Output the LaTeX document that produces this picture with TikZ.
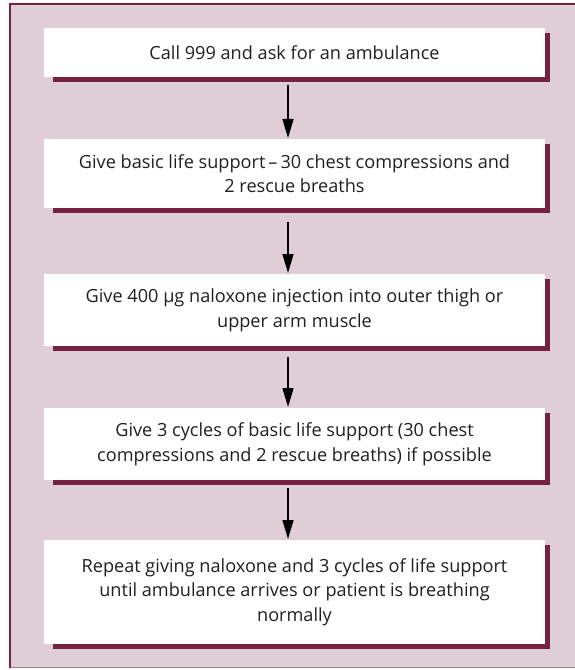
\documentclass[tikz,border=0pt]{standalone}
\usepackage{fontspec}
\setmainfont{Open Sans}
\usetikzlibrary{calc,arrows.meta}
\definecolor{panelbg}{HTML}{DFCED5}
\definecolor{maroon}{HTML}{74223F}
\definecolor{lowline}{HTML}{9C7F8B}
\definecolor{inktext}{HTML}{231F20}
\pgfdeclarelayer{panel}
\pgfdeclarelayer{shadow}
\pgfsetlayers{panel,shadow,main}
\tikzset{
  stepbox/.style={draw=none, fill=white, minimum width=501bp, inner sep=0pt,
    align=center, text=inktext, anchor=north,
    font=\fontsize{18.2}{24.5}\selectfont},
  flowarrow/.style={line width=1.5bp, -{Triangle[length=19bp,width=11bp]}},
}
\newcommand{\boxshadow}[1]{%
  \begin{pgfonlayer}{shadow}
    \fill[maroon] ($(#1.north west)+(9,5)$) rectangle ($(#1.south east)+(5,5)$);
  \end{pgfonlayer}}
\begin{document}
\begin{tikzpicture}[x=1bp,y=-1bp]
\useasboundingbox (0,0) rectangle (575,670);
% panel with its borders
\begin{pgfonlayer}{panel}
  \fill[panelbg] (10,4) rectangle (575,667);
  \draw[lowline, line width=1.2bp] (10,667.5) -- (575,667.5);
  \draw[maroon, line width=2.4bp] (8.8,4) -- (575,4);
  \draw[maroon, line width=2.3bp] (10,2.8) -- (10,668);
\end{pgfonlayer}
% steps
\node[stepbox, minimum height=49bp] (b1) at (294.5,28) {Call 999 and ask for an ambulance};
\node[stepbox, minimum height=69bp] (b2) at (294.5,139) {Give basic life support\,–\,30 chest compressions and\\2 rescue breaths};
\node[stepbox, minimum height=72bp] (b3) at (294.5,274) {Give 400 μg naloxone injection into outer thigh or\\upper arm muscle};
\node[stepbox, minimum height=72bp] (b4) at (294.5,408) {Give 3 cycles of basic life support (30 chest\\compressions and 2 rescue breaths) if possible};
\node[stepbox, minimum height=104bp] (b5) at (294.5,540) {Repeat giving naloxone and 3 cycles of life support\\until ambulance arrives or patient is breathing\\normally};
\boxshadow{b1}\boxshadow{b2}\boxshadow{b3}\boxshadow{b4}\boxshadow{b5}
% connectors
\draw[flowarrow] ($(b1.south)+(-6.5,8)$) -- ($(b2.north)+(-6.5,-1)$);
\draw[flowarrow] ($(b2.south)+(-6.5,14)$) -- ($(b3.north)+(-6.5,-1)$);
\draw[flowarrow] ($(b3.south)+(-6.5,11)$) -- ($(b4.north)+(-6.5,-1)$);
\draw[flowarrow] ($(b4.south)+(-6.5,8)$) -- ($(b5.north)+(-6.5,-1)$);
\end{tikzpicture}
\end{document}
